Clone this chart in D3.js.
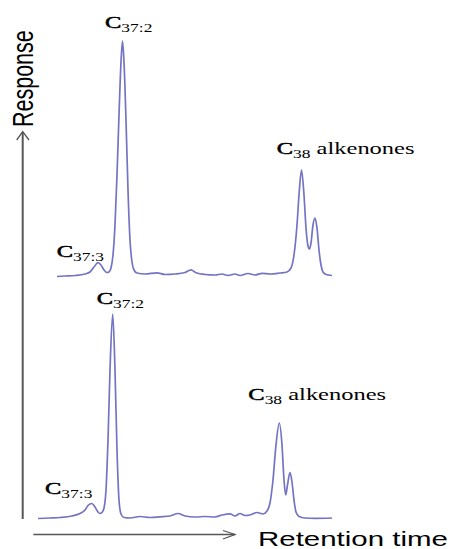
<!DOCTYPE html>
<html>
<head>
<meta charset="utf-8">
<script src="https://cdn.jsdelivr.net/npm/d3@7"></script>
<style>
  html, body { margin: 0; padding: 0; background: #fff; }
  svg { display: block; }
</style>
</head>
<body>
<svg id="chart" width="453" height="549"></svg>
<script>
// Upper chromatogram: retention time (min) and detector response (arbitrary units)
const upperTime = [18.0, 18.8, 19.8, 20.8, 21.3, 21.7, 22.1, 22.4, 22.7, 23.0, 23.2, 23.4, 23.6, 23.8, 24.0, 24.2, 24.4, 24.55, 24.7, 24.9, 25.1, 25.3, 25.5, 25.7, 26.0, 26.8, 28.0, 28.8, 29.8, 30.8, 31.4, 31.9, 32.8, 33.8, 34.5, 35.1, 35.8, 36.3, 37.1, 37.8, 38.5, 39.3, 40.3, 41.0, 41.4, 41.7, 42.0, 42.2, 42.45, 42.7, 42.9, 43.1, 43.25, 43.4, 43.6, 43.8, 44.0, 44.2, 44.4, 44.6, 44.9, 45.5];
const upperResponse = [0.25, 0.5, 0.75, 1.5, 2.5, 5, 7.15, 6, 3.5, 2.25, 2.5, 4.5, 11, 26, 51, 81, 107.5, 118, 107.5, 78.5, 43.5, 18.5, 7.5, 3.5, 2, 1.5, 2.1, 1.25, 1.5, 2.25, 3.6, 2.1, 1.25, 1, 1.5, 0.75, 1.5, 0.75, 1.75, 1, 1.85, 1.5, 2, 2.5, 4.5, 11, 26, 41, 53.5, 41, 24.5, 15.5, 14, 17, 26, 29.5, 24.5, 13.5, 6, 2.5, 1.25, 0.75];

// Lower chromatogram
const lowerTime = [16.0, 17.2, 18.2, 19.4, 20.2, 20.7, 21.0, 21.37, 21.7, 22.0, 22.2, 22.4, 22.6, 22.8, 23.0, 23.2, 23.47, 23.7, 23.9, 24.1, 24.3, 24.6, 25.2, 26.2, 27.2, 28.2, 29.2, 30.0, 30.7, 31.7, 32.7, 33.7, 34.4, 35.2, 35.7, 36.2, 36.7, 37.2, 37.9, 38.5, 38.9, 39.2, 39.5, 39.8, 40.13, 40.4, 40.6, 40.77, 40.95, 41.2, 41.4, 41.6, 41.8, 42.1, 42.7, 43.7, 45.4];
const lowerResponse = [0.25, 0.5, 0.75, 1.5, 2.75, 4.5, 6.75, 7.75, 6, 3.5, 2.75, 3.25, 5.5, 14.5, 39.5, 74.5, 102.5, 74.5, 34.5, 9.5, 2.5, 0.75, 0.5, 1.25, 0.75, 1.1, 1.5, 2.75, 1.5, 1, 1.25, 1, 2, 2.6, 1.5, 2.75, 1.75, 2, 3.25, 2.5, 4, 8, 19.5, 37, 48, 37, 19.5, 12, 17, 23.25, 18.5, 9.5, 3.5, 1.25, 0.5, 0.35, 0.5];

// Peak identifications: name, subscript, suffix
const peakNames = ["C", "C", "C"];
const peakSubscripts = ["37:3", "37:2", "38"];
const peakSuffixes = ["", "", " alkenones"];
const upperPeakTimes = [22.1, 24.55, 42.45];
const lowerPeakTimes = [21.37, 23.47, 40.13];

const axisTitles = ["Response", "Retention time"];

const svg = d3.select("#chart");
const traceColor = "#7474c4";
const axisColor = "#565656";
const stretch = 1.4;

const panels = [
  { time: upperTime, resp: upperResponse, peaks: upperPeakTimes,
    xRange: [57, 332], yRange: [277, 41],
    offsets: [[-41.3, -6], [-17.5, -13], [-24.8, -15.7]] },
  { time: lowerTime, resp: lowerResponse, peaks: lowerPeakTimes,
    xRange: [38, 332], yRange: [519, 314],
    offsets: [[-46.7, -9.5], [-16, -10], [-31, -23]] }
];

panels.forEach(p => {
  const x = d3.scaleLinear().domain(d3.extent(p.time)).range(p.xRange);
  const y = d3.scaleLinear().domain([0, d3.max(p.resp)]).range(p.yRange);
  const pts = p.time.map((t, i) => [t, p.resp[i]]);
  const line = d3.line().x(d => x(d[0])).y(d => y(d[1])).curve(d3.curveMonotoneX);

  svg.append("path")
    .datum(pts)
    .attr("d", line)
    .attr("fill", "none")
    .attr("stroke", traceColor)
    .attr("stroke-width", 1.7)
    .attr("stroke-linejoin", "round");

  // peak labels anchored to each peak apex
  p.peaks.forEach((t, k) => {
    const idx = p.time.indexOf(t);
    const px = x(t) + p.offsets[k][0];
    const py = y(p.resp[idx]) + p.offsets[k][1];
    const txt = svg.append("text")
      .attr("transform", `translate(${px},${py}) scale(${stretch},1)`)
      .attr("font-family", "'Liberation Serif', 'Times New Roman', serif")
      .attr("fill", "#000");
    txt.append("tspan").attr("font-size", 17.5)
      .attr("stroke", "#000").attr("stroke-width", 0.5)
      .text(peakNames[k]);
    txt.append("tspan").attr("font-size", 12.5).attr("dy", 4).text(peakSubscripts[k]);
    if (peakSuffixes[k]) {
      txt.append("tspan").attr("font-size", 17.5).attr("dy", -4).text(peakSuffixes[k]);
    }
  });
});

// Response axis with open arrowhead
svg.append("line")
  .attr("x1", 22.7).attr("y1", 132).attr("x2", 22.7).attr("y2", 519)
  .attr("stroke", axisColor).attr("stroke-width", 2);
svg.append("path")
  .attr("d", "M16.7,140 L22.7,131.7 L29,140")
  .attr("fill", "none").attr("stroke", axisColor).attr("stroke-width", 1.3);

// Retention-time arrow
svg.append("line")
  .attr("x1", 33.3).attr("y1", 534.5).attr("x2", 235).attr("y2", 534.5)
  .attr("stroke", axisColor).attr("stroke-width", 1.5);
svg.append("path")
  .attr("d", "M223,530.5 L235,534.5 L223,539")
  .attr("fill", "none").attr("stroke", axisColor).attr("stroke-width", 1.3);

// Axis titles
svg.append("text")
  .attr("transform", `translate(33.3,127) rotate(-90) scale(1,${stretch})`)
  .attr("font-family", "'Liberation Sans', Arial, sans-serif")
  .attr("font-size", 21.5)
  .attr("fill", "#000")
  .text(axisTitles[0]);

const rt = svg.append("text")
  .attr("font-family", "'Liberation Sans', Arial, sans-serif")
  .attr("font-size", 20.5)
  .attr("fill", "#000")
  .text(axisTitles[1]);
const rtW = rt.node().getComputedTextLength();
rt.attr("transform", `translate(258,545.5) scale(${190 / rtW},1)`);
</script>
</body>
</html>
